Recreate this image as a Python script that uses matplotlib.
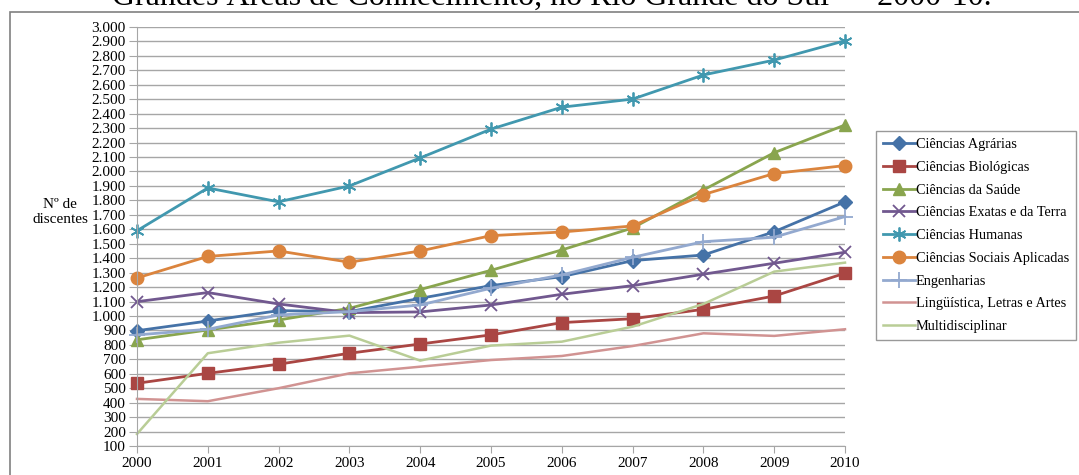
import numpy as np
import matplotlib
matplotlib.use("Agg")
import matplotlib.pyplot as plt
from matplotlib.ticker import FuncFormatter, MultipleLocator
from matplotlib.patches import Rectangle

plt.rcParams['font.family'] = ['Liberation Serif', 'DejaVu Serif']

# data (discentes per area, 2000-2010)
years = [2000, 2001, 2002, 2003, 2004, 2005, 2006, 2007, 2008, 2009, 2010]

agrarias = [898, 965, 1037, 1030, 1122, 1210, 1272, 1383, 1422, 1583, 1790]
biologicas = [534, 603, 666, 742, 806, 869, 954, 981, 1046, 1138, 1296]
saude = [835, 903, 972, 1053, 1183, 1316, 1457, 1609, 1872, 2130, 2322]
exatas = [1099, 1162, 1083, 1023, 1028, 1076, 1150, 1210, 1289, 1365, 1441]
humanas = [1590, 1886, 1790, 1900, 2094, 2293, 2445, 2501, 2668, 2771, 2905]
sociais = [1263, 1412, 1450, 1372, 1450, 1556, 1581, 1623, 1840, 1986, 2041]
engenharias = [869, 908, 1007, 1030, 1076, 1192, 1284, 1406, 1514, 1545, 1688]
linguistica = [426, 410, 500, 603, 649, 695, 723, 792, 880, 862, 908]
multi = [183, 742, 815, 864, 691, 795, 822, 926, 1083, 1307, 1369]

labels = ['Ciências Agrárias', 'Ciências Biológicas', 'Ciências da Saúde',
          'Ciências Exatas e da Terra', 'Ciências Humanas',
          'Ciências Sociais Aplicadas', 'Engenharias',
          'Lingüística, Letras e Artes', 'Multidisciplinar']
series = [agrarias, biologicas, saude, exatas, humanas, sociais,
          engenharias, linguistica, multi]

colors = ['#4572A7', '#AA4643', '#89A54E', '#71588F', '#4198AF', '#DB843D',
          '#93A9CF', '#D19392', '#B9CD96']
markers = ['D', 's', '^', 'x', (6, 2, 0), 'o', '+', None, None]
msizes = [7.5, 9, 9, 9, 10, 9, 11, 0, 0]

fig = plt.figure(figsize=(10.79, 4.75), dpi=100)

# outer chart frame (runs off the right / bottom of the picture)
frame = Rectangle((10 / 1079, -0.05), 1.2, 1.05 - 12 / 475,
                  transform=fig.transFigure, fill=False, ec='#808080', lw=1.2,
                  clip_on=False)
fig.patches.append(frame)

# title is cut off at the top edge in the original
fig.text(552 / 1079, 1 - 5 / 475, 'Grandes Áreas de Conhecimento, no Rio Grande do Sul \u2014 2000-10.',
         ha='center', va='baseline', fontsize=23)

ax = fig.add_axes([137 / 1079, 1 - 446 / 475, (845 - 137) / 1079, (446 - 27) / 475])

for s, lab, c, m, ms in zip(series, labels, colors, markers, msizes):
    lw = 2.0 if m is not None else 1.8
    mew = 1.3 if m in ('x', '+', (6, 2, 0)) else 1
    ax.plot(years, s, color=c, marker=m, markersize=ms, lw=lw, label=lab,
            markeredgewidth=mew, clip_on=False)

ax.set_xlim(2000, 2010)
ax.set_ylim(100, 3000)
ax.yaxis.set_major_locator(MultipleLocator(100))
ax.yaxis.set_major_formatter(FuncFormatter(lambda v, p: f"{v:,.0f}".replace(',', '.')))
ax.set_xticks(years)
ax.grid(axis='y', color='#A6A6A6', lw=1)
ax.set_axisbelow(True)
for side in ['top', 'right']:
    ax.spines[side].set_visible(False)
ax.spines['left'].set_color('#A6A6A6')
ax.spines['bottom'].set_color('#A6A6A6')
ax.tick_params(axis='y', length=6, color='#A6A6A6', labelsize=11, pad=2)
ax.tick_params(axis='x', length=5, color='#A6A6A6', labelsize=11, pad=3)

fig.text(60 / 1079, 1 - 212 / 475, 'Nº de\ndiscentes', ha='center', va='center',
         fontsize=11, linespacing=1.25)

leg = fig.legend(loc='upper left', bbox_to_anchor=(876 / 1079, 1 - 131 / 475),
                 frameon=True, fancybox=False, edgecolor='#808080', fontsize=10.3,
                 handlelength=2.2, handletextpad=0.1, labelspacing=0.68,
                 borderpad=0.5, borderaxespad=0)
leg.get_frame().set_linewidth(1)

fig.savefig('out.png', dpi=100)
